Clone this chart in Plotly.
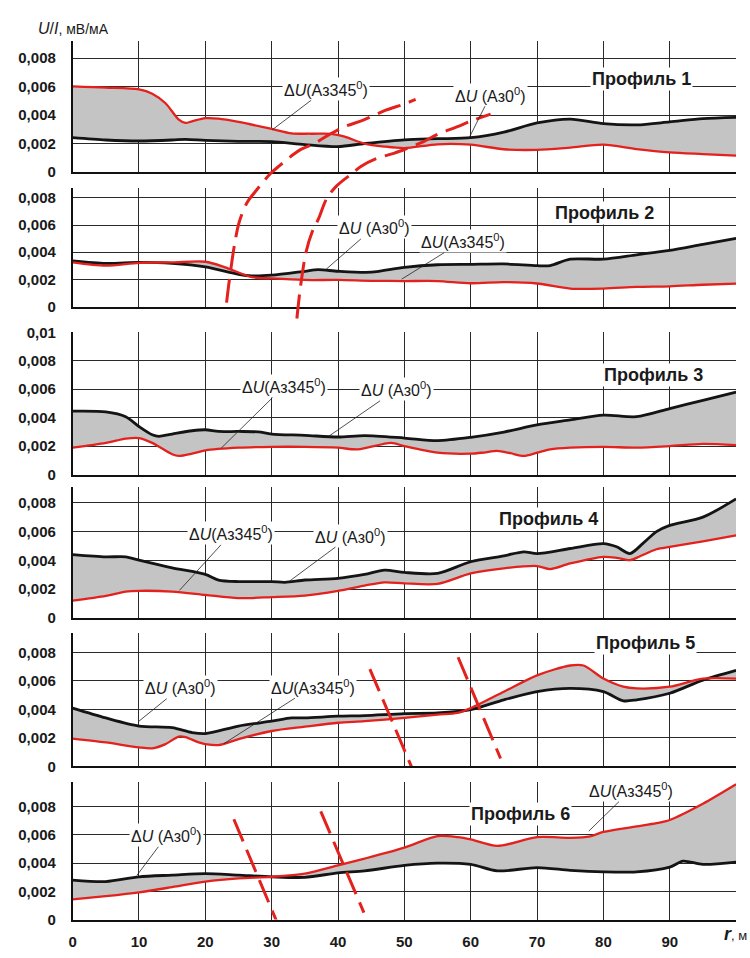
import plotly.graph_objects as go

# ---------------- data (r in metres, U/I in mV/mA) ----------------
r_red1 = [0, 5, 10, 12, 14, 16, 17, 18, 20, 22, 25, 30, 33, 36, 39, 41, 44, 47, 50, 55, 60, 65, 70, 75, 80, 85, 90, 95, 100]
red1 = [0.00602, 0.00593, 0.0058, 0.0055, 0.00483, 0.00368, 0.00345, 0.00356, 0.00378, 0.00375, 0.00352, 0.00303,
        0.00272, 0.00269, 0.00268, 0.00248, 0.002, 0.00179, 0.00168, 0.00195, 0.00192, 0.0016, 0.00156, 0.00172,
        0.00192, 0.00161, 0.00138, 0.00126, 0.00115]
r_blk1 = [0, 5, 10, 15, 17, 20, 25, 30, 35, 40, 44, 50, 55, 60, 65, 70, 75, 80, 85, 90, 95, 100]
blk1 = [0.00241, 0.00225, 0.00218, 0.00225, 0.0023, 0.00222, 0.00215, 0.00214, 0.00193, 0.00179, 0.002, 0.00226,
        0.00234, 0.00241, 0.0028, 0.00345, 0.00372, 0.0034, 0.00331, 0.00352, 0.00375, 0.00384]

r_red2 = [0, 5, 10, 15, 20, 23, 27, 30, 35, 40, 45, 50, 55, 60, 65, 70, 75, 80, 85, 90, 95, 100]
red2 = [0.00325, 0.00301, 0.00322, 0.00325, 0.0033, 0.00289, 0.00217, 0.00207, 0.00196, 0.00196, 0.0019, 0.00188,
        0.00188, 0.00172, 0.0018, 0.0017, 0.00133, 0.00133, 0.00145, 0.00149, 0.00161, 0.00169]
r_blk2 = [0, 5, 10, 15, 20, 25, 27, 30, 35, 37, 40, 45, 50, 55, 60, 65, 70, 72, 75, 80, 85, 90, 95, 100]
blk2 = [0.00337, 0.00318, 0.00325, 0.00318, 0.00292, 0.00238, 0.00226, 0.00231, 0.0026, 0.00272, 0.0026, 0.00253,
        0.00289, 0.00308, 0.00311, 0.00314, 0.00301, 0.00302, 0.00349, 0.00349, 0.00381, 0.00414, 0.00458, 0.00501]

r_red3 = [0, 5, 8, 10, 12, 15, 16, 18, 20, 25, 30, 35, 40, 43, 48, 50, 55, 60, 62, 64, 66, 68, 70, 72, 75, 80, 85, 90, 95, 100]
red3 = [0.00189, 0.00223, 0.00253, 0.00257, 0.00223, 0.00143, 0.00131, 0.00147, 0.0017, 0.00189, 0.00195, 0.00195,
        0.00189, 0.00177, 0.00223, 0.002, 0.00154, 0.00147, 0.00155, 0.00166, 0.0015, 0.00131, 0.00154, 0.00177,
        0.00189, 0.00195, 0.00189, 0.002, 0.00216, 0.00207]
r_blk3 = [0, 5, 8, 10, 12, 13, 15, 18, 20, 22, 25, 28, 30, 35, 40, 44, 50, 55, 60, 65, 70, 75, 80, 85, 90, 95, 100]
blk3 = [0.00446, 0.00441, 0.00407, 0.00338, 0.0028, 0.00269, 0.00285, 0.00308, 0.00315, 0.00303, 0.00303, 0.003,
        0.00285, 0.00276, 0.00264, 0.00274, 0.00257, 0.00239, 0.00262, 0.00299, 0.00349, 0.00384, 0.00418, 0.00407,
        0.00464, 0.00522, 0.00579]

r_red4 = [0, 5, 8, 10, 15, 20, 25, 30, 35, 40, 44, 47, 50, 55, 60, 65, 70, 72, 75, 80, 82, 84, 85, 88, 90, 95, 100]
red4 = [0.0012, 0.00154, 0.00184, 0.00189, 0.00184, 0.00161, 0.00138, 0.00145, 0.00156, 0.00189, 0.00225, 0.00248,
        0.00241, 0.00237, 0.0031, 0.00345, 0.00361, 0.0034, 0.00379, 0.00425, 0.00418, 0.00402, 0.00418, 0.00478,
        0.00494, 0.00533, 0.00575]
r_blk4 = [0, 5, 8, 10, 15, 20, 22, 25, 30, 32, 35, 40, 44, 47, 50, 55, 60, 65, 68, 70, 75, 80, 82, 84, 86, 88, 90, 95, 100]
blk4 = [0.00441, 0.00425, 0.00425, 0.00402, 0.00349, 0.00303, 0.00264, 0.00253, 0.00253, 0.00248, 0.00264, 0.00276,
        0.00303, 0.00333, 0.00317, 0.0031, 0.00391, 0.00432, 0.0046, 0.00448, 0.00483, 0.00517, 0.00495, 0.00448,
        0.0052, 0.006, 0.00644, 0.00701, 0.00828]

r_red5 = [0, 5, 10, 12, 14, 16, 17, 19, 20, 22, 25, 30, 35, 40, 44, 50, 55, 58, 60, 65, 70, 75, 77, 80, 83, 85, 90, 95, 100]
red5 = [0.00195, 0.00168, 0.00133, 0.00126, 0.00156, 0.00209, 0.00205, 0.00168, 0.00156, 0.00149, 0.00191, 0.00248,
        0.00278, 0.00306, 0.00317, 0.0034, 0.00363, 0.00375, 0.00409, 0.00524, 0.00639, 0.00708, 0.00708, 0.00616,
        0.00559, 0.00547, 0.00559, 0.00616, 0.00616]
r_blk5 = [0, 5, 10, 15, 18, 20, 25, 30, 33, 35, 40, 44, 50, 55, 60, 65, 70, 75, 80, 83, 85, 90, 95, 100]
blk5 = [0.00409, 0.0034, 0.00283, 0.00271, 0.00237, 0.0023, 0.00283, 0.00317, 0.0034, 0.0034, 0.00352, 0.00356,
        0.0037, 0.00375, 0.00398, 0.00467, 0.00524, 0.00547, 0.00524, 0.0046, 0.00467, 0.00513, 0.00605, 0.00674]

r_red6 = [0, 5, 10, 15, 20, 25, 30, 35, 40, 44, 50, 55, 58, 60, 64, 70, 75, 78, 80, 85, 88, 90, 95, 100]
red6 = [0.00143, 0.00166, 0.00193, 0.0023, 0.00269, 0.00292, 0.00303, 0.00326, 0.00384, 0.00432, 0.0051, 0.00591,
        0.00584, 0.00568, 0.00522, 0.00584, 0.00579, 0.0059, 0.00621, 0.0066, 0.00683, 0.00706, 0.00821, 0.00959]
r_blk6 = [0, 5, 10, 15, 20, 25, 30, 35, 40, 44, 50, 55, 60, 64, 70, 75, 80, 85, 90, 92, 95, 100]
blk6 = [0.0028, 0.00269, 0.00303, 0.00315, 0.00326, 0.00315, 0.00303, 0.00299, 0.00331, 0.00345, 0.00384, 0.004,
        0.00391, 0.00345, 0.00368, 0.00349, 0.00338, 0.00338, 0.00372, 0.00414, 0.00391, 0.00407]

profile_names = ["Профиль 1", "Профиль 2", "Профиль 3", "Профиль 4", "Профиль 5", "Профиль 6"]
profile_pos = [(85.7, 0.00655), (80.2, 0.00686), (87.5, 0.00703), (71.7, 0.00685), (86.3, 0.00869), (67.5, 0.00746)]

x_ticks = [0, 10, 20, 30, 40, 50, 60, 70, 80, 90, 100]
x_ticktext = ["0", "10", "20", "30", "40", "50", "60", "70", "80", "90", ""]
x_unit = "<b><i>r</i></b><span style='font-size:13px'>, м</span>"
y_ticks = [0, 0.002, 0.004, 0.006, 0.008]
y_ticktext = ["0", "0,002", "0,004", "0,006", "0,008"]
y_ticks3 = [0, 0.002, 0.004, 0.006, 0.008, 0.01]
y_ticktext3 = ["0", "0,002", "0,004", "0,006", "0,008", "0,01"]

# leader-label annotations: (panel, text, r, value, dx px, dy px)
A345 = "Δ<i>U</i>(Аз345<sup>0</sup>)"
A0 = "Δ<i>U</i> (Аз0<sup>0</sup>)"
labels = [
    (1, A345, 30.1, 0.00297, 54, -41), (1, A0, 59.7, 0.00234, 22, -44),
    (2, A0, 38.2, 0.00274, 48, -42), (2, A345, 49.6, 0.00202, 61, -38),
    (3, A345, 22.4, 0.00186, 63, -62), (3, A0, 38.6, 0.00269, 68, -47),
    (4, A345, 16.1, 0.00192, 52, -57), (4, A0, 32.6, 0.00253, 62, -46),
    (5, A0, 10.0, 0.00317, 42, -34), (5, A345, 22.8, 0.00159, 89, -57),
    (6, A345, 77.8, 0.00627, 42, -41), (6, A0, 9.7, 0.00314, 30, -40),
]

# dashed boundary arcs across profiles 1-2 (r, value in profile-1 units)
arcA_r = [23.2, 23.6, 24.4, 25.1, 26.3, 27.4, 29.9, 31.1, 32.9, 34.4, 36.4, 38.9, 40.9, 43.9, 47.2, 49.9, 51.7]
arcA_v = [-0.00917, -0.00766, -0.0051, -0.00352, -0.00214, -0.00145, -0.00007, 0.00041, 0.0011, 0.00159, 0.002,
          0.00269, 0.00317, 0.00366, 0.00434, 0.00476, 0.0051]
arcB_r = [33.8, 34.4, 35.2, 36.1, 37.1, 38.3, 39.8, 42.0, 43.5, 45.9, 48.4, 50.4, 52.9, 54.9, 57.9, 60.5, 63.0]
arcB_v = [-0.01028, -0.00786, -0.00559, -0.00421, -0.00324, -0.00186, -0.00097, -0.00014, 0.00041, 0.00097,
          0.00131, 0.00166, 0.00214, 0.00262, 0.00317, 0.00366, 0.00407]
# dashed straight boundaries in profiles 5 and 6
dash5 = [([44.8, 51.3], [0.00683, -0.00028]), ([58.1, 64.5], [0.00766, 0.00055])]
dash6 = [([24.3, 30.7], [0.00711, -0.00007]), ([37.4, 43.9], [0.00767, 0.00049])]

panels = [(r_blk1, blk1, r_red1, red1), (r_blk2, blk2, r_red2, red2), (r_blk3, blk3, r_red3, red3),
          (r_blk4, blk4, r_red4, red4), (r_blk5, blk5, r_red5, red5), (r_blk6, blk6, r_red6, red6)]

# ---------------- layout geometry ----------------
W, H = 750, 958
dom_px = [(33, 166), (182, 303), (329, 474), (487, 620), (635, 771), (787, 927)]
ymax = [0.00917, 0.00874, 0.01001, 0.00908, 0.00938, 0.00975]
XD = [69 / W, 736 / W]
RED = "#e3211d"
BLK = "#141414"
GRAY = "#c4c4c4"
FONT = "Liberation Sans"

fig = go.Figure()
layout = dict(width=W, height=H, margin=dict(l=0, r=0, t=0, b=0), paper_bgcolor="white",
              plot_bgcolor="rgba(0,0,0,0)", showlegend=False, font=dict(family=FONT, color="#1a1a1a"))
annotations = []

for i, (rb, b, rr, rd) in enumerate(panels):
    n = "" if i == 0 else str(i + 1)
    xa, ya = "x" + n, "y" + n
    sp = dict(shape="spline", smoothing=0.8)
    fig.add_trace(go.Scatter(x=rb, y=b, mode="lines", line=dict(width=0, **sp), xaxis=xa, yaxis=ya, hoverinfo="skip"))
    fig.add_trace(go.Scatter(x=rr, y=rd, mode="lines", fill="tonexty", fillcolor=GRAY, line=dict(width=0, **sp),
                             xaxis=xa, yaxis=ya, hoverinfo="skip"))
    fig.add_trace(go.Scatter(x=rb, y=b, mode="lines", line=dict(width=2.8, color=BLK, **sp), xaxis=xa, yaxis=ya))
    fig.add_trace(go.Scatter(x=rr, y=rd, mode="lines", line=dict(width=2.3, color=RED, **sp), xaxis=xa, yaxis=ya))

    t, btm = dom_px[i]
    layout["xaxis" + n] = dict(domain=XD, range=[0, 100], anchor=ya, tickvals=x_ticks, ticktext=x_ticktext,
                               showticklabels=(i == 5), showgrid=True, gridcolor="#2a2a2a", gridwidth=1,
                               zeroline=False, showline=True, linecolor="#111", linewidth=1.6, ticks="",
                               tickfont=dict(family=FONT, size=15, color="#1a1a1a", weight="bold"),
                               ticklabelstandoff=8)
    if i > 0:
        layout["xaxis" + n]["matches"] = "x"
    tv, tt = (y_ticks3, y_ticktext3) if i == 2 else (y_ticks, y_ticktext)
    layout["yaxis" + n] = dict(domain=[1 - btm / H, 1 - t / H], range=[0, ymax[i]], anchor=xa, tickvals=tv,
                               ticktext=tt, showgrid=True, gridcolor="#2a2a2a", gridwidth=1, zeroline=False,
                               showline=True, linecolor="#111", linewidth=1.6, ticks="",
                               tickfont=dict(family=FONT, size=15, color="#1a1a1a", weight="bold"),
                               ticklabelstandoff=12)
    px_, py_ = profile_pos[i]
    annotations.append(dict(x=px_, y=py_, xref=xa, yref=ya, text=profile_names[i], showarrow=False,
                            font=dict(family=FONT, size=18, color="#1a1a1a", weight="bold"),
                            bgcolor="white", borderpad=1))

for (p, txt, rx, vy, dx, dy) in labels:
    n = "" if p == 1 else str(p)
    annotations.append(dict(x=rx, y=vy, xref="x" + n, yref="y" + n, text=txt, showarrow=True, arrowhead=0,
                            arrowwidth=0.8, arrowcolor="#222", ax=dx, ay=dy, axref="pixel", ayref="pixel",
                            standoff=0, bgcolor="white", borderpad=1,
                            font=dict(family=FONT, size=16, color="#1a1a1a")))

# y-axis title and x-axis unit
annotations.append(dict(x=32 / W, y=1 - 20 / H, xref="paper", yref="paper", xanchor="left", yanchor="middle",
                        showarrow=False, text="<i>U</i>/<i>I</i><span style='font-size:14px'>, мВ/мА</span>",
                        font=dict(family=FONT, size=16, color="#1a1a1a")))
annotations.append(dict(x=749 / W, y=1 - 942 / H, xref="paper", yref="paper", xanchor="right", yanchor="middle",
                        showarrow=False, text=x_unit, font=dict(family=FONT, size=18, color="#1a1a1a")))

# dashed boundaries
DASH = dict(color=RED, width=3, dash="24px,9px")
for ar, av in [(arcA_r, arcA_v), (arcB_r, arcB_v)]:
    fig.add_trace(go.Scatter(x=ar, y=av, mode="lines", line=dict(shape="spline", smoothing=1, **DASH),
                             xaxis="x7", yaxis="y7", hoverinfo="skip"))
for (dr, dv) in dash5:
    fig.add_trace(go.Scatter(x=dr, y=dv, mode="lines", line=DASH, xaxis="x5", yaxis="y5", hoverinfo="skip"))
for (dr, dv) in dash6:
    fig.add_trace(go.Scatter(x=dr, y=dv, mode="lines", line=DASH, xaxis="x6", yaxis="y6", hoverinfo="skip"))

s1 = (dom_px[0][1] - dom_px[0][0]) / ymax[0]
layout["xaxis7"] = dict(domain=XD, range=[0, 100], anchor="y7", visible=False)
layout["yaxis7"] = dict(domain=[0, 1], range=[(dom_px[0][1] - H) / s1, dom_px[0][1] / s1], anchor="x7",
                        visible=False)
layout["annotations"] = annotations
fig.update_layout(**layout)
fig.write_html("out.html", config={"displayModeBar": False},
               post_script="document.body.style.margin='0';document.body.style.overflow='hidden';")
